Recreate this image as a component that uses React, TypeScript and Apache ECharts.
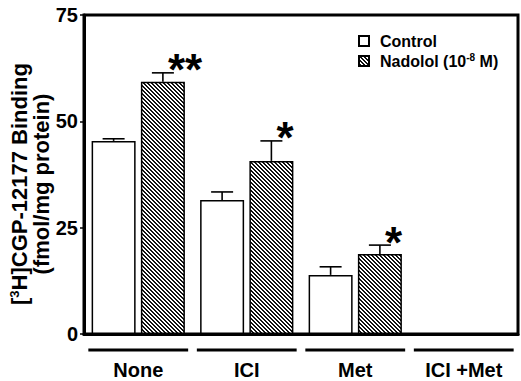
import React, { useEffect, useRef } from 'react';
import * as echarts from 'echarts';

const categories = ['None', 'ICI', 'Met', 'ICI +Met'];
const controlValues: (number | null)[] = [45.4, 31.5, 13.9, null];
const controlErrors: (number | null)[] = [0.5, 1.9, 1.9, null];
const nadololValues: (number | null)[] = [59.3, 40.7, 18.8, null];
const nadololErrors: (number | null)[] = [2.1, 4.7, 2.1, null];
const significance = ['**', '*', '*', ''];
const yMin = 0;
const yMax = 75;
const yInterval = 25;

const FONT = '"Liberation Sans", Arial, Helvetica, sans-serif';
const BAR_W = 44;
const BAR_GAP = '12%';

function makeHatch() {
  const n = 4;
  const c = document.createElement('canvas');
  c.width = n;
  c.height = n;
  const ctx = c.getContext('2d')!;
  ctx.fillStyle = '#fff';
  ctx.fillRect(0, 0, n, n);
  ctx.fillStyle = '#111';
  for (let y = 0; y < n; y++)
    for (let x = 0; x < n; x++) if ((((x - y) % n) + n) % n < 2) ctx.fillRect(x, y, 1, 1);
  return c;
}

function errData(vals: (number | null)[], errs: (number | null)[]) {
  const out: number[][] = [];
  vals.forEach((v, i) => {
    if (v != null && errs[i] != null) out.push([i, v, errs[i] as number]);
  });
  return out;
}

function errorRender(groupIndex: number, withStars: boolean) {
  return (params: any, api: any) => {
    const i = api.value(0);
    const v = api.value(1);
    const e = api.value(2);
    let off = groupIndex === 0 ? -24.5 : 24.5;
    if (api.barLayout) {
      const lay = api.barLayout({ count: 2, barWidth: BAR_W, barGap: BAR_GAP });
      if (lay && lay[groupIndex]) off = lay[groupIndex].offsetCenter;
    }
    const base = api.coord([i, v]);
    const x = base[0] + off;
    const yTop = api.coord([i, v + e])[1];
    const children: any[] = [
      { type: 'line', shape: { x1: x, y1: base[1], x2: x, y2: yTop }, style: { stroke: '#000', lineWidth: 1.6 } },
      { type: 'line', shape: { x1: x - 11, y1: yTop, x2: x + 11, y2: yTop }, style: { stroke: '#000', lineWidth: 1.6 } },
    ];
    if (withStars && significance[i]) {
      children.push({
        type: 'text',
        style: {
          text: significance[i],
          x: x + 5,
          y: yTop - 3,
          font: `bold 44px ${FONT}`,
          fill: '#000',
          align: 'left',
          verticalAlign: 'middle',
        },
      });
    }
    return { type: 'group', children };
  };
}

export default function App() {
  const ref = useRef<HTMLDivElement>(null);
  useEffect(() => {
    if (!ref.current) return;
    const chart = echarts.init(ref.current, undefined, { renderer: 'svg' });
    const hatch = makeHatch();
    const option: any = {
      animation: false,
      backgroundColor: '#fff',
      grid: { left: 84, right: 3, top: 15, bottom: 47, show: true, borderColor: '#000', borderWidth: 3, backgroundColor: 'transparent' },
      legend: {
        orient: 'vertical',
        left: 353,
        top: 28,
        icon: 'rect',
        itemWidth: 10,
        itemHeight: 10,
        itemGap: 3,
        data: ['Control', 'Nadolol'],
        formatter: (name: string) =>
          name === 'Nadolol' ? '{t|Nadolol (10}{s|-8}{t| M)}' : '{t|Control}',
        textStyle: {
          color: '#000',
          padding: [0, 0, 0, 6],
          rich: {
            t: { fontSize: 16, fontWeight: 'bold', fontFamily: FONT, color: '#000', lineHeight: 18 },
            s: { fontSize: 10, fontWeight: 'bold', fontFamily: FONT, color: '#000', verticalAlign: 'top', lineHeight: 18 },
          },
        },
      },
      xAxis: {
        type: 'category',
        data: categories,
        axisLine: { show: true, lineStyle: { color: '#000', width: 3 } },
        axisTick: { show: false },
        axisLabel: { color: '#000', fontSize: 20, fontWeight: 'bold', fontFamily: FONT, margin: 26 },
      },
      yAxis: {
        type: 'value',
        min: yMin,
        max: yMax,
        interval: yInterval,
        splitLine: { show: false },
        axisLine: { show: true, lineStyle: { color: '#000', width: 3 } },
        axisTick: { show: true, inside: false, length: 4, lineStyle: { color: '#000', width: 1.5 } },
        axisLabel: { color: '#000', fontSize: 20, fontWeight: 'bold', fontFamily: FONT, margin: 6 },
      },
      graphic: [
        {
          type: 'text',
          x: 30,
          y: 184,
          rotation: Math.PI / 2,
          style: {
            text: '{t|[}{s|3}{t|H]CGP-12177 Binding}\n{t|(fmol/mg protein)}',
            align: 'center',
            verticalAlign: 'middle',
            rich: {
              t: { fontSize: 22, fontWeight: 'bold', fontFamily: FONT, fill: '#000', lineHeight: 22 },
              s: { fontSize: 13, fontWeight: 'bold', fontFamily: FONT, fill: '#000', verticalAlign: 'top', lineHeight: 22 },
            },
          },
        },
      ],
      series: [
        {
          name: 'Control',
          type: 'bar',
          barWidth: BAR_W,
          barGap: BAR_GAP,
          data: controlValues.map((v) => (v == null ? '-' : v)),
          itemStyle: { color: '#fff', borderColor: '#000', borderWidth: 1.5 },
        },
        {
          name: 'Nadolol',
          type: 'bar',
          barWidth: BAR_W,
          barGap: BAR_GAP,
          data: nadololValues.map((v) => (v == null ? '-' : v)),
          itemStyle: { color: { image: hatch, repeat: 'repeat' }, borderColor: '#000', borderWidth: 1.5 },
        },
        {
          type: 'custom',
          name: 'errControl',
          renderItem: errorRender(0, false),
          data: errData(controlValues, controlErrors),
          z: 5,
          silent: true,
        },
        {
          type: 'custom',
          name: 'errNadolol',
          renderItem: errorRender(1, true),
          data: errData(nadololValues, nadololErrors),
          z: 5,
          silent: true,
        },
        {
          type: 'custom',
          name: 'underline',
          clip: false,
          silent: true,
          data: categories.map((_, i) => [i, 0]),
          renderItem: (params: any, api: any) => {
            const i = api.value(0);
            const p = api.coord([i, 0]);
            const bw = api.size([1, 0])[0];
            const half = bw * 0.46;
            const y = p[1] + 16;
            return { type: 'line', shape: { x1: p[0] - half, y1: y, x2: p[0] + half, y2: y }, style: { stroke: '#000', lineWidth: 3 } };
          },
        },
      ],
    };
    chart.setOption(option);
    return () => chart.dispose();
  }, []);
  return <div ref={ref} style={{ position: 'fixed', left: 0, top: 0, width: 521, height: 381, background: '#fff' }} />;
}
